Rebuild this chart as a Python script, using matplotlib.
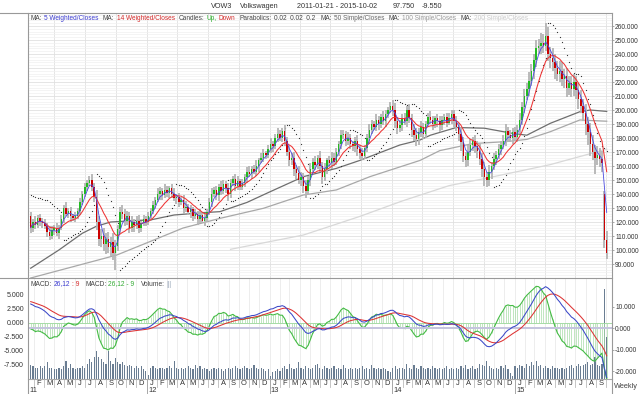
import numpy as np
import matplotlib
matplotlib.use("Agg")
import matplotlib.pyplot as plt
from matplotlib.lines import Line2D
from datetime import date

plt.rcParams['font.family'] = ['Liberation Sans', 'DejaVu Sans']

# ---------------- data (weekly, 2011-01-21 .. 2015-10-02) ----------------
START = date(2011, 1, 21)
closes = [
    116, 120, 118, 123, 121, 119, 117, 113, 110, 114,
    116, 112, 116, 122, 130, 126, 128, 124, 123, 124,
    128, 134, 140, 145, 148, 150, 145, 138, 120, 108,
    110, 104, 108, 102, 106, 98, 103, 115, 127, 126,
    121, 124, 116, 120, 118, 121, 116, 119, 122, 120,
    124, 128, 132, 136, 140, 142, 139, 143, 141, 144,
    140, 137, 138, 134, 136, 130, 131, 127, 129, 124,
    126, 122, 125, 121, 123, 127, 134, 140, 143, 139,
    145, 142, 147, 144, 140, 148, 151, 146, 149, 145,
    148, 152, 156, 154, 158, 156, 160, 164, 166, 169,
    168, 172, 176, 174, 180, 183, 180, 185, 178, 170,
    164, 166, 158, 155, 150, 152, 146, 142, 150, 158,
    163, 161, 166, 160, 152, 158, 164, 162, 166, 163,
    170, 176, 182, 183, 178, 180, 176, 174, 178, 172,
    169, 167, 173, 180, 186, 190, 188, 193, 190, 195,
    192, 197, 200, 203, 200, 192, 187, 189, 194, 192,
    200, 194, 186, 182, 179, 184, 188, 183, 190, 195,
    193, 190, 194, 192, 189, 193, 195, 191, 194, 197,
    192, 188, 183, 177, 167, 164, 170, 175, 178, 174,
    171, 165, 158, 152, 150, 156, 160, 165, 168, 172,
    175, 178, 185, 182, 180, 184, 181, 186, 193, 202,
    210, 215, 221, 228, 236, 244, 246, 248, 246, 253,
    240, 237, 234, 230, 226, 228, 222, 224, 216, 219,
    215, 220, 214, 208, 203, 198, 190, 184, 176, 170,
    166, 168, 165, 162, 107.3, 97.75,
]
OPEN_FIRST = 124
OPEN_GAPS = {244: 140}
wick_up = [
    3, 2, 4, 2, 3, 2, 3, 2, 4, 3, 2, 3, 2, 3, 2, 4, 2, 3, 2, 3,
    2, 3, 2, 3, 2, 3, 4, 3, 5, 4, 5, 6, 4, 5, 3, 6, 4, 3, 4, 5,
    3, 4, 3, 4, 2, 3, 4, 2, 3, 2, 3, 2, 3, 2, 4, 3, 2, 4, 3, 2,
    3, 4, 2, 3, 2, 3, 4, 2, 3, 2, 3, 2, 4, 2, 3, 2, 3, 4, 2, 3,
    2, 4, 3, 2, 4, 3, 2, 3, 4, 2, 3, 2, 3, 4, 2, 3, 4, 2, 3, 3,
    2, 3, 4, 2, 3, 4, 3, 2, 4, 3, 4, 3, 4, 3, 5, 4, 3, 4, 3, 4,
    3, 4, 2, 5, 3, 4, 2, 3, 4, 3, 3, 2, 4, 3, 2, 4, 3, 2, 3, 4,
    3, 4, 2, 3, 4, 3, 2, 4, 3, 2, 4, 3, 2, 3, 4, 5, 3, 4, 3, 4,
    3, 4, 3, 4, 5, 3, 4, 3, 2, 3, 4, 3, 2, 3, 4, 3, 2, 3, 4, 3,
    3, 4, 3, 5, 4, 3, 5, 4, 3, 4, 4, 5, 4, 5, 4, 5, 3, 4, 3, 4,
    3, 4, 5, 3, 4, 3, 4, 3, 5, 4, 5, 4, 6, 5, 4, 6, 5, 7, 6, 9,
    6, 5, 7, 6, 5, 7, 6, 5, 6, 5, 5, 6, 4, 5, 6, 5, 6, 5, 7, 6,
    5, 6, 5, 6, 2, 6,
]
wick_dn = [
    4, 3, 3, 2, 4, 3, 2, 4, 3, 2, 3, 2, 4, 2, 3, 2, 3, 4, 2, 3,
    2, 3, 2, 2, 3, 2, 3, 4, 6, 5, 6, 5, 7, 4, 6, 5, 12, 4, 3, 4,
    4, 3, 4, 3, 5, 3, 4, 3, 2, 3, 2, 3, 2, 3, 2, 4, 3, 2, 3, 4,
    3, 2, 4, 3, 2, 4, 3, 2, 4, 3, 2, 4, 3, 2, 4, 3, 2, 3, 2, 3,
    4, 3, 2, 3, 5, 3, 2, 4, 3, 2, 2, 3, 4, 2, 3, 2, 3, 4, 2, 3,
    3, 2, 3, 4, 2, 3, 2, 3, 4, 3, 4, 3, 5, 4, 3, 4, 5, 5, 3, 4,
    3, 4, 3, 4, 5, 3, 4, 3, 4, 3, 2, 3, 4, 3, 4, 3, 4, 3, 4, 5,
    4, 3, 2, 3, 4, 3, 2, 3, 4, 3, 3, 4, 3, 2, 4, 5, 4, 3, 4, 3,
    4, 3, 5, 4, 5, 4, 3, 4, 3, 2, 3, 4, 3, 4, 5, 3, 4, 3, 2, 4,
    4, 3, 5, 6, 4, 5, 4, 3, 4, 5, 5, 4, 6, 6, 5, 4, 5, 3, 4, 3,
    4, 3, 4, 5, 3, 4, 3, 4, 3, 4, 4, 3, 5, 4, 6, 5, 4, 6, 5, 4,
    5, 7, 6, 8, 5, 6, 5, 6, 7, 5, 6, 5, 6, 7, 5, 6, 8, 9, 9, 6,
    12, 5, 6, 6, 6, 4,
]
volume = [
    10, 9, 8, 8, 9, 8, 9, 12, 8, 8, 7, 7, 8, 7, 9, 13, 8, 11, 8, 7,
    8, 8, 9, 8, 11, 14, 12, 16, 20, 16, 14, 12, 11, 20, 13, 11, 15, 12, 11, 12,
    10, 9, 10, 9, 8, 9, 8, 9, 7, 6,
    3, 8, 9, 8, 7, 8, 8, 7, 8, 9, 8, 13, 8, 7, 8, 7, 8, 9, 8, 7,
    10, 8, 9, 7, 8, 7, 6, 7, 8, 7, 8, 7, 6, 7, 8, 7, 8, 9, 8, 7,
    8, 9, 8, 7, 8, 10, 8, 7, 8, 7, 6, 7,
    2, 5, 6, 7, 6, 8, 9, 7, 11, 8, 7, 8, 12, 8, 7, 9, 8, 7, 8, 10,
    11, 8, 7, 9, 8, 7, 8, 9, 7, 8, 7, 10, 8, 7, 8, 7, 8, 7, 8, 9,
    7, 8, 7, 10, 8, 7, 8, 7, 8, 7, 6, 5,
    8, 9, 7, 8, 8, 7, 11, 8, 7, 10, 8, 7, 9, 8, 7, 8, 7, 9, 8, 7,
    8, 7, 8, 9, 7, 8, 7, 8, 7, 9, 8, 10, 7, 8, 9, 7, 8, 11, 10, 9,
    13, 9, 8, 7, 8, 7, 9, 8, 10, 7, 4, 2,
    9, 8, 10, 9, 8, 11, 9, 12, 10, 13, 9, 10, 8, 9, 8, 7, 9, 8, 8, 7,
    8, 7, 8, 9, 10, 8, 9, 11, 9, 10, 11, 12, 10, 11, 16, 10, 9, 11, 64, 30,
]
# moving averages (week index, price)
sma50_wk = [0, 12, 22, 28, 34, 44, 51, 61, 72, 80.5, 92, 101.8, 116, 130, 140, 157,
            165.6, 170, 181, 193, 205, 211, 221, 233.6, 238, 245]
sma50_px = [87, 100, 112, 117, 120, 121, 121.5, 125, 126.5, 127.4, 134, 141.6, 152.4,
            158.3, 164, 175, 178.6, 182, 187.5, 187, 183.3, 182, 190.5, 198.8, 200, 199]
sma100_wk = [0, 36.6, 50.7, 64.8, 80.5, 99, 116, 130, 144.3, 165.6, 174, 188, 202,
             211, 221, 233.6, 245]
sma100_px = [80, 96.4, 106, 115.7, 122.6, 129.8, 139.3, 142.9, 152.4, 164, 171, 176,
             177.4, 179, 184.5, 192.9, 192]
sma200_wk = [85, 116, 140, 158, 178, 193, 221, 245]
sma200_px = [100.5, 110.7, 124, 135, 146, 151, 161, 172]
MACD_START, SIGNAL_START = 11.3, 12.4
SAR_START = 139

price_ticks = list(range(90, 261, 10))
macd_left_ticks = [5, 2.5, 0, -2.5, -5, -7.5]
macd_right_ticks = [10, 0, -10, -20]
month_letters = "JFMAMJJASOND"

# ---------------- derived series ----------------
c = np.array(closes, float)
n = len(c)
x = np.arange(n)
o = np.concatenate([[OPEN_FIRST], c[:-1]])
for k, v in OPEN_GAPS.items():
    o[k] = v
hi = np.maximum(o, c) + np.array(wick_up)
lo = np.minimum(o, c) - np.array(wick_dn)


def wma(vals, p):
    out = np.empty(len(vals))
    for i in range(len(vals)):
        m = min(p, i + 1)
        w = np.arange(m, 0, -1, dtype=float)
        out[i] = np.dot(w, vals[i::-1][:m]) / w.sum()
    return out


wma5 = wma(c, 5)
wma14 = wma(c, 14)

ema12 = np.empty(n); ema26 = np.empty(n); sig = np.empty(n)
ema12[0] = c[0]; ema26[0] = c[0] - MACD_START; sig[0] = SIGNAL_START
a12, a26, a9 = 2 / 13, 2 / 27, 2 / 10
for i in range(1, n):
    ema12[i] = ema12[i - 1] + a12 * (c[i] - ema12[i - 1])
    ema26[i] = ema26[i - 1] + a26 * (c[i] - ema26[i - 1])
for i in range(n):
    m = ema12[i] - ema26[i]
    if i > 0:
        sig[i] = sig[i - 1] + a9 * (m - sig[i - 1])
macd = ema12 - ema26
hist = macd - sig

# parabolic SAR 0.02 0.02 0.2
sar = np.empty(n)
trend = -1
sar[0] = SAR_START
ep = lo[0]
af = 0.02
for i in range(1, n):
    s = sar[i - 1] + af * (ep - sar[i - 1])
    if trend > 0:
        s = min(s, lo[i - 1], lo[i - 2] if i > 1 else lo[i - 1])
        if lo[i] < s:
            trend, s, ep, af = -1, ep, lo[i], 0.02
        elif hi[i] > ep:
            ep = hi[i]; af = min(af + 0.02, 0.2)
    else:
        s = max(s, hi[i - 1], hi[i - 2] if i > 1 else hi[i - 1])
        if hi[i] > s:
            trend, s, ep, af = 1, ep, hi[i], 0.02
        elif lo[i] < ep:
            ep = lo[i]; af = min(af + 0.02, 0.2)
    sar[i] = s


def pos(d):
    return (d - START).days / 7.0


months = []
for yy in range(2011, 2016):
    for mm in range(1, 13):
        months.append(date(yy, mm, 1))
months.append(date(2016, 1, 1))
XMIN, XMAX = -1.15, 247.25
mpos = [pos(d) for d in months]
quarter_pos = [pos(d) for d in months if d.month in (1, 4, 7, 10) and XMIN < pos(d) < XMAX]
month_pos = [p for p in mpos if XMIN < p < XMAX]

# ---------------- figure ----------------
W, H = 640, 394
fig = plt.figure(figsize=(6.4, 3.94), dpi=100)
fig.patch.set_facecolor('white')
renderer = fig.canvas.get_renderer()


def rect(l, t, r, b):
    return [l / W, 1 - b / H, (r - l) / W, (b - t) / H]


def ftext(px, py, s, color='#333333', size=5.3, ha='left', va='center'):
    return fig.text(px / W, 1 - py / H, s, color=color, fontsize=size, ha=ha, va=va)


def chain(items, py, x0, x1, maxsize=5.2):
    """items: (text, colour, gap after) - fitted between x0 and x1 pixels."""
    texts = [ftext(0, py, s, color=col, size=10) for s, col, g in items]
    widths = [t.get_window_extent(renderer).width for t in texts]
    gaps = sum(g for s, col, g in items[:-1])
    size = min(maxsize, 10 * (x1 - x0 - gaps) / sum(widths))
    xx = x0
    for t, w, (s, col, g) in zip(texts, widths, items):
        t.set_fontsize(size)
        t.set_x(xx / W)
        xx += w * size / 10 + g


# main price panel
ax = fig.add_axes(rect(28, 13, 612, 278))
ax.set_xlim(XMIN, XMAX)
ax.set_ylim(80, 269.3)
ax.set_yticks(price_ticks)
ax.set_yticklabels([f"{v:.3f}" for v in price_ticks])
ax.set_yticks(np.arange(80, 270, 2), minor=True)
ax.yaxis.tick_right()
ax.tick_params(axis='y', which='major', length=1.5, width=0.6, color='#999999', pad=0.8,
               labelsize=4.75, labelcolor='#333333')
ax.tick_params(axis='y', which='minor', length=0)
ax.set_xticks(quarter_pos)
ax.tick_params(axis='x', length=0, labelbottom=False)
ax.grid(which='major', axis='y', color='#e0e0e0', lw=0.6)
ax.grid(which='minor', axis='y', color='#f0f0f0', lw=0.5)
ax.grid(which='major', axis='x', color='#e0e0e0', lw=0.6)
ax.set_axisbelow(True)
for sp in ax.spines.values():
    sp.set_visible(False)

ax.plot(sma200_wk, sma200_px, color='#d8d8d8', lw=0.9, zorder=2)
ax.plot(sma100_wk, sma100_px, color='#a8a8a8', lw=0.9, zorder=2)
ax.plot(sma50_wk, sma50_px, color='#6e6e6e', lw=0.9, zorder=2)
ax.plot(x, sar, ls='none', marker='o', ms=0.9, mew=0, color='#333333', zorder=3)
ax.vlines(x, lo, hi, color='#b4b4b4', lw=1.3, zorder=4)
up = c >= o
ax.bar(x[up], (c - o)[up], bottom=o[up], width=0.62, color='#22bb22', lw=0, zorder=5)
ax.bar(x[~up], (o - c)[~up], bottom=c[~up], width=0.62, color='#cc0000', lw=0, zorder=5)
ax.plot(x, wma14, color='#ee3333', lw=0.75, zorder=6)
ax.plot(x, wma5, color='#4a4ae0', lw=0.6, zorder=7)

# MACD / volume panel
axv = fig.add_axes(rect(28, 278, 612, 379))
axv.set_xlim(XMIN, XMAX)
axv.set_ylim(0, 72)
axv.bar(x, volume, width=0.5, color='#6a7d92', lw=0, zorder=2)
axv.set_yticks([])
axv.set_xticks(month_pos)
axv.tick_params(axis='x', length=0, labelbottom=False)
axv.grid(axis='x', color='#e6e6e6', lw=0.5)
axv.set_axisbelow(True)
for sp in axv.spines.values():
    sp.set_visible(False)

axh = axv.twinx()
axh.set_ylim(-10.05, 7.98)
axh.yaxis.set_ticks_position('left')
axh.set_yticks(macd_left_ticks)
axh.set_yticklabels([f"{v:.3f}" for v in macd_left_ticks])
axh.tick_params(axis='y', length=0, pad=3, labelsize=5.0, labelcolor='#333333')
axh.axhline(0, color='#99d699', lw=0.6, zorder=1)
axh.vlines(x, 0, hist, color='#a6dca6', lw=0.5, zorder=2)
axh.plot(x, hist, color='#44bb44', lw=0.8, zorder=3)
for sp in axh.spines.values():
    sp.set_visible(False)

axl = axv.twinx()
axl.set_ylim(-23.6, 23.4)
axl.set_yticks(macd_right_ticks)
axl.set_yticklabels([f"{v:.3f}" for v in macd_right_ticks])
axl.tick_params(axis='y', length=1.5, width=0.6, color='#999999', pad=0.8, labelsize=4.75,
                labelcolor='#333333')
axl.axhline(0, color='#c4c4de', lw=1.4, zorder=1)
axl.plot(x, sig, color='#dd3333', lw=0.75, zorder=3)
axl.plot(x, macd, color='#3b48c8', lw=0.75, zorder=4)
for sp in axl.spines.values():
    sp.set_visible(False)

# date strip
axd = fig.add_axes(rect(28, 379, 612, 394))
axd.set_xlim(XMIN, XMAX)
axd.set_ylim(0, 1)
axd.axis('off')
for d0, d1, p0, p1 in zip(months[:-1], months[1:], mpos[:-1], mpos[1:]):
    a, b = max(p0, XMIN), min(p1, XMAX)
    if XMIN < p0 < XMAX:
        if d0.month == 1:
            axd.plot([p0, p0], [0, 1], color='#999999', lw=0.6)
        else:
            axd.plot([p0, p0], [0.47, 1], color='#bbbbbb', lw=0.6)
    if b - a > 3.0:
        axd.text((a + b) / 2, 0.68, month_letters[d0.month - 1], ha='center', va='center',
                 fontsize=5.4, color='#333333')
for yy in range(2011, 2016):
    p = max(pos(date(yy, 1, 1)), XMIN)
    axd.text(p + 0.6, 0.2, f"{yy % 100:02d}", ha='left', va='center', fontsize=5.4,
             color='#333333')


# frame lines
def fline(x0, y0, x1, y1, color='#999999', lw=0.8):
    fig.add_artist(Line2D([x0 / W, x1 / W], [1 - y0 / H, 1 - y1 / H], color=color, lw=lw))


fline(0, 13, 612, 13)
fline(0, 278, 612, 278)
fline(28, 379, 612, 379, color='#aaaaaa')
fline(28, 13, 28, 394)
fline(612, 13, 612, 394)

# header
chain([("VOW3", '#333333', 8), ("Volkswagen", '#333333', 18),
       ("2011-01-21 - 2015-10-02", '#333333', 16), ("97.750", '#333333', 7),
       ("-9.550", '#333333', 0)], 6, 211, 442, maxsize=5.4)

chain([("MA:", '#444444', 2), ("5 Weighted/Closes", '#3b3bd0', 4),
       ("MA:", '#444444', 2), ("14 Weighted/Closes", '#d42a2a', 4),
       ("Candles:", '#444444', 2), ("Up,", '#22aa22', 2), ("Down", '#d42a2a', 4),
       ("Parabolics:", '#444444', 2), ("0.02  0.02  0.2", '#444444', 4),
       ("MA:", '#444444', 2), ("50 Simple/Closes", '#666666', 4),
       ("MA:", '#444444', 2), ("100 Simple/Closes", '#9a9a9a', 4),
       ("MA:", '#444444', 2), ("200 Simple/Closes", '#cccccc', 0)], 18, 30.5, 529)

chain([("MACD:", '#444444', 2), ("26,12", '#3b3bd0', 1), (": 9", '#d42a2a', 6),
       ("MACD:", '#444444', 2), ("26,12 - 9", '#33aa33', 6),
       ("Volume:", '#444444', 2), ("|||", '#a8b4c4', 0)], 284, 30.7, 172)

ftext(638, 387, "Weekly", color='#444444', size=5.3, ha='right')

fig.savefig("out.png", dpi=100, facecolor='white')
